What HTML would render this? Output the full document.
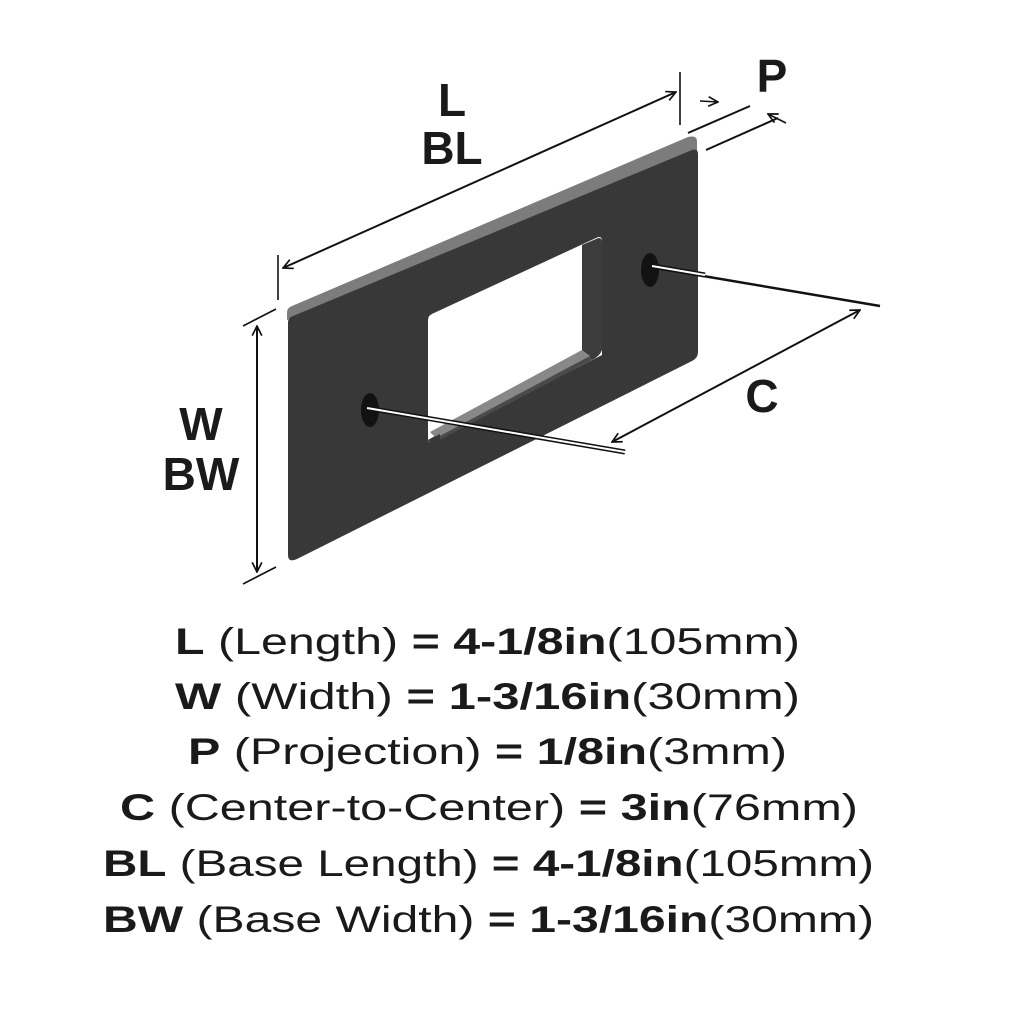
<!DOCTYPE html>
<html><head><meta charset="utf-8"><style>
html,body{margin:0;padding:0;background:#fff}
svg{display:block}
text{font-family:"Liberation Sans",sans-serif;fill:#1a1a1a}
.b{font-weight:bold}
</style></head><body>
<svg width="1024" height="1024" viewBox="0 0 1024 1024" xmlns="http://www.w3.org/2000/svg">
<defs>
<marker id="a" viewBox="0 0 10 10" refX="9" refY="5" markerWidth="12" markerHeight="12" markerUnits="userSpaceOnUse" orient="auto-start-reverse">
<path d="M1,1 L9,5 L1,9" fill="none" stroke="#111" stroke-width="1.4"/></marker>
</defs>
<!-- plate top bevel -->
<path d="M287,312 Q287,308 292,306 L688,137 Q697,135 697,141 L697,150 L287,320 Z" fill="#7c7c7c"/>
<!-- plate face -->
<path d="M293,316 L692,150 Q698,148 698,154 L698,352 Q698,358 692,361 L297,559 Q288,563 288,555 L288,322 Q288,318 293,316 Z" fill="#383838"/>
<!-- cutout -->
<path d="M434,313 L596,238 Q602,235 602,241 L602,355 L432,442 Q428,444 428,438 L428,320 Q428,315 434,313 Z" fill="#fff"/>
<path d="M582,245 L596,239 Q602,236 602,242 L602,350 Q600,356 592,360 L582,350 Z" fill="#3c3c3c"/>
<path d="M428,440 L582,350 L592,360 L432,444 Z" fill="#4a4a4a"/>
<path d="M430,432 L582,350 L590,356 L436,438 Z" fill="#888"/>
<path d="M428,440 L440,434 L440,445 L432,446 Z" fill="#383838"/>
<!-- holes -->
<ellipse cx="370" cy="410" rx="9" ry="17" fill="#121212"/>
<ellipse cx="650" cy="270" rx="9" ry="17" fill="#121212"/>
<!-- leader lines -->
<line x1="650" y1="267" x2="880" y2="306" stroke="#111" stroke-width="2.5"/>
<line x1="652" y1="266" x2="705" y2="275" stroke="#111" stroke-width="5"/>
<line x1="652" y1="266" x2="705" y2="275" stroke="#fff" stroke-width="2"/>
<line x1="367" y1="408" x2="625" y2="452" stroke="#111" stroke-width="5"/>
<line x1="367" y1="408" x2="625" y2="452" stroke="#fff" stroke-width="2"/>
<!-- C dim -->
<line x1="612" y1="442" x2="860" y2="310" stroke="#111" stroke-width="2" marker-start="url(#a)" marker-end="url(#a)"/>
<!-- L dim -->
<line x1="278" y1="255" x2="278" y2="300" stroke="#111" stroke-width="1.6"/>
<line x1="680" y1="72" x2="680" y2="125" stroke="#111" stroke-width="1.6"/>
<line x1="283" y1="268" x2="676" y2="92" stroke="#111" stroke-width="2" marker-start="url(#a)" marker-end="url(#a)"/>
<!-- P dim -->
<line x1="688" y1="133" x2="750" y2="106" stroke="#111" stroke-width="2"/>
<line x1="706" y1="150" x2="778" y2="118" stroke="#111" stroke-width="2"/>
<line x1="700" y1="101" x2="718" y2="102" stroke="#111" stroke-width="1.6" marker-end="url(#a)"/>
<line x1="786" y1="123" x2="768" y2="114" stroke="#111" stroke-width="1.6" marker-end="url(#a)"/>
<!-- W dim -->
<line x1="243" y1="326" x2="276" y2="309" stroke="#111" stroke-width="1.6"/>
<line x1="243" y1="584" x2="276" y2="567" stroke="#111" stroke-width="1.6"/>
<line x1="257" y1="326" x2="257" y2="572" stroke="#111" stroke-width="2" marker-start="url(#a)" marker-end="url(#a)"/>
<!-- labels -->
<text x="452" y="116" font-size="46" class="b" text-anchor="middle">L</text>
<text x="452" y="164" font-size="46" class="b" text-anchor="middle">BL</text>
<text x="772" y="92" font-size="46" class="b" text-anchor="middle">P</text>
<text x="762" y="412" font-size="46" class="b" text-anchor="middle">C</text>
<text x="201" y="440" font-size="46" class="b" text-anchor="middle">W</text>
<text x="201" y="490" font-size="46" class="b" text-anchor="middle">BW</text>
<!-- spec lines -->
<text x="175" y="654" font-size="37" textLength="625" lengthAdjust="spacingAndGlyphs"><tspan class="b">L</tspan> (Length) <tspan class="b">= 4-1/8in</tspan>(105mm)</text>
<text x="175" y="709" font-size="37" textLength="625" lengthAdjust="spacingAndGlyphs"><tspan class="b">W</tspan> (Width) <tspan class="b">= 1-3/16in</tspan>(30mm)</text>
<text x="188" y="764" font-size="37" textLength="599" lengthAdjust="spacingAndGlyphs"><tspan class="b">P</tspan> (Projection) <tspan class="b">= 1/8in</tspan>(3mm)</text>
<text x="120" y="820" font-size="37" textLength="738" lengthAdjust="spacingAndGlyphs"><tspan class="b">C</tspan> (Center-to-Center) <tspan class="b">= 3in</tspan>(76mm)</text>
<text x="103" y="876" font-size="37" textLength="771" lengthAdjust="spacingAndGlyphs"><tspan class="b">BL</tspan> (Base Length) <tspan class="b">= 4-1/8in</tspan>(105mm)</text>
<text x="103" y="932" font-size="37" textLength="771" lengthAdjust="spacingAndGlyphs"><tspan class="b">BW</tspan> (Base Width) <tspan class="b">= 1-3/16in</tspan>(30mm)</text>
</svg>
</body></html>
